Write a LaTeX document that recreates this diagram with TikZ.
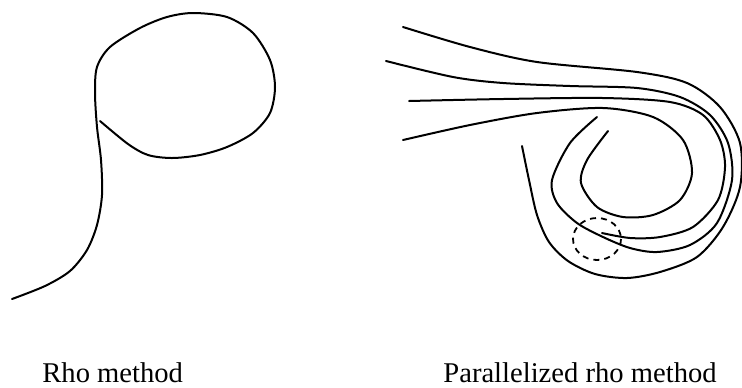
\documentclass[tikz,border=0pt]{standalone}
\usepackage{fontspec}
\setmainfont{Liberation Serif}
\begin{document}
\begin{tikzpicture}[x=0.5pt,y=-0.5pt,
    walk/.style={line width=1pt, line cap=round},
    hit/.style={line width=0.9pt, dash pattern=on 3pt off 2.5pt},
    lbl/.style={inner sep=0pt, anchor=base west, font=\fontsize{14.3}{17}\selectfont}]
    \useasboundingbox (0,0) rectangle (742,387);

    % rho method
    \draw [walk] plot [smooth] coordinates {(12,299) (45,286) (70,271) (87,250) (97,225)
        (102,195) (101,160) (97,127) (95,93) (97,67) (110,47) (140,28) (167,17) (193,13)
        (227,17) (253,33) (270,60) (275,87) (270,113) (253,133) (227,147) (200,155)
        (172,158) (148,155) (128,144) (100,121)};

    % parallelized rho method
    \draw [walk] plot [smooth] coordinates {(403,27) (470,47) (537,62) (637,72) (687,83)
        (720,107) (740,143) (740,187) (723,227) (697,257) (660,272) (627,278) (595,274)
        (568,261) (549,242) (537,215) (529,180) (522,146)};
    \draw [walk] plot [smooth] coordinates {(597,117) (570,143) (552,180) (557,203)
        (577,223) (603,237) (630,248) (657,252) (690,245) (717,223) (732,180) (728,143)
        (710,115) (680,97) (637,88) (570,86) (503,83) (453,77) (386,61)};
    \draw [walk] plot [smooth] coordinates {(409,101) (503,99) (603,98) (670,102) (703,115)
        (720,140) (725,167) (718,200) (693,227) (660,237) (630,238) (602,233)};
    \draw [walk] plot [smooth] coordinates {(403,140) (470,125) (537,113) (603,108) (653,117)
        (683,140) (692,173) (680,200) (653,215) (623,217) (597,207) (581,183) (587,160)
        (608,131)};
    \draw [hit] (597,239) ellipse [x radius=24, y radius=21];

    \node [lbl] (rho) at (42,382) {Rho method};
    \node [lbl] (par) at (443,382) {Parallelized rho method};
\end{tikzpicture}
\end{document}
